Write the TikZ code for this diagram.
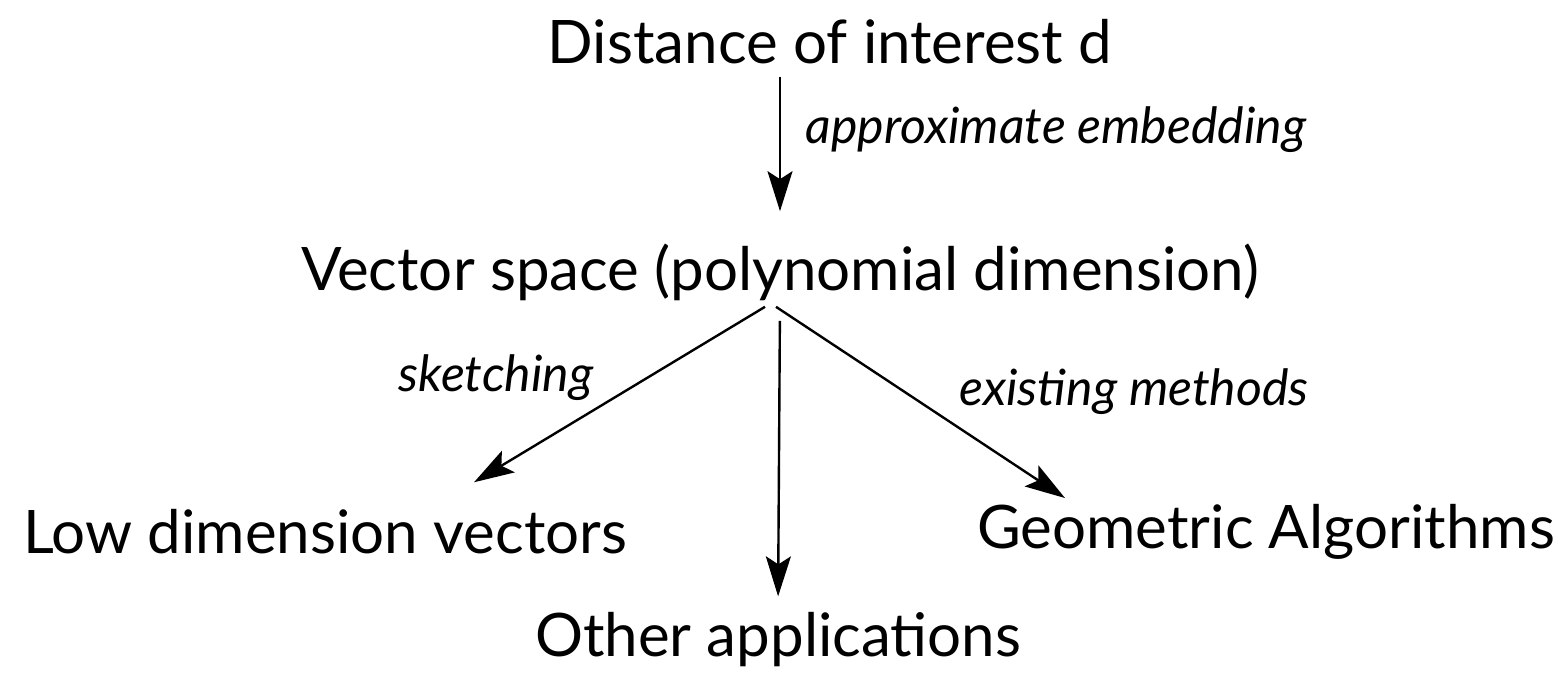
\documentclass[tikz,border=0pt]{standalone}
\usepackage{fontspec}
\setmainfont{Lato}
\usetikzlibrary{arrows.meta}
\tikzset{
  term/.style={inner sep=0pt, font=\fontsize{30}{36}\selectfont},
  lbl/.style={inner sep=0pt, font=\fontsize{25}{30}\selectfont\itshape},
  arr/.style={-{Stealth[length=20pt,width=12.5pt,inset=4pt]}, line width=1.2pt}
}
\begin{document}
\begin{tikzpicture}[x=0.5pt,y=-0.5pt]
        \useasboundingbox (0,0) rectangle (1563,677);
        \node[term] (dist) at (830,42) {Distance of interest d};
        \node[term] (vec) at (780,272) {Vector space (polynomial dimension)};
        \node[term] (low) at (325,532) {Low dimension vectors};
        \node[term] (geo) at (1266,532) {Geometric Algorithms};
        \node[term] (other) at (778,640) {Other applications};
        \draw[arr, shorten <=6pt, shorten >=16pt] (dist.south -| vec.north) -- (vec.north);
        \draw[arr] ([xshift=-7.5pt,yshift=-3pt]vec.south) -- ([xshift=74.5pt,yshift=13.5pt]low.north);
        \draw[arr] ([xshift=-2pt,yshift=-3pt]vec.south) -- ([xshift=-100.5pt,yshift=3pt]geo.north);
        \draw[arr, shorten <=10pt, shorten >=8pt] (vec.south) -- (other.north);
        \node[lbl] at (1056,130) {approximate embedding};
        \node[lbl] at (496,378) {sketching};
        \node[lbl] at (1134,392) {existing methods};
    \end{tikzpicture}
\end{document}
